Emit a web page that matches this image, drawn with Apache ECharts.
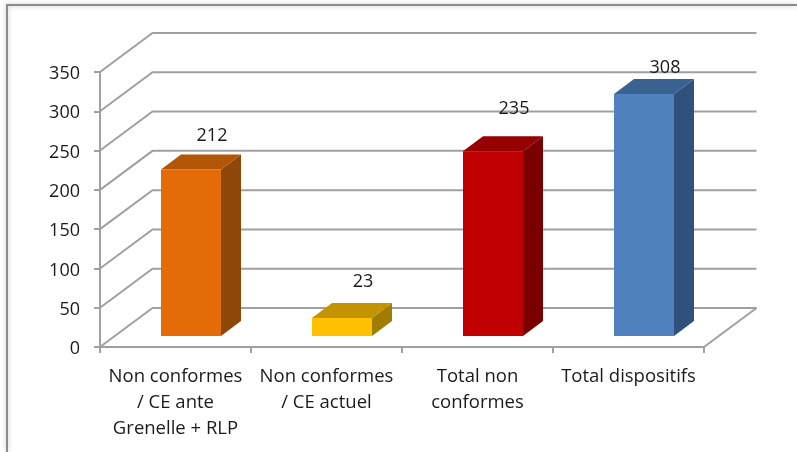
<!DOCTYPE html>
<html>
<head>
<meta charset="utf-8">
<style>html,body{margin:0;padding:0;background:#fff}#chart{width:797px;height:452px}</style>
<script src="https://cdn.jsdelivr.net/npm/echarts@6/dist/echarts.min.js"></script>
</head>
<body>
<div id="chart"></div>
<script>
// Chart content
const categories = ['Non conformes\n/ CE ante\nGrenelle + RLP', 'Non conformes\n/ CE actuel', 'Total non\nconformes', 'Total dispositifs'];
const values = [212, 23, 235, 308];
const wallTicks = [0, 50, 100, 150, 200, 250, 300, 350];

// Shades per bar: front, top, side
const faceColors = [
  ['#E36C09', '#B25506', '#8F4807'],
  ['#FFC000', '#C49300', '#A07D00'],
  ['#C00000', '#960000', '#7A0000'],
  ['#4F81BD', '#3A6291', '#30517C']
];
// Manual lift of each value label above the top of its bar
const labelLift = [19, 21, 27, 11];

// Oblique projection of the chart box
const DEPTH_X = 52.5, DEPTH_Y = -39;   // full box depth
const BAR_DX = 15.5, BAR_DY = -11;     // bar front face inside the box
const BAR_DEPTH_X = 20, BAR_DEPTH_Y = -15;
const BAR_WIDTH = 60;
const GRID_COLOR = '#A0A0A0';

const chart = echarts.init(document.getElementById('chart'), null, { renderer: 'canvas' });

// Back wall, side wall and floor lines
function renderWall(params, api) {
  const v = api.value(0);
  const left = api.coord([0, v]);
  const band = api.size([1, 0])[0];
  const x0 = left[0] - band / 2;
  const x1 = x0 + band * categories.length;
  const y = left[1];
  const style = { stroke: GRID_COLOR, lineWidth: 2, fill: null };
  const children = [
    { type: 'polyline', shape: { points: [[x0, y], [x0 + DEPTH_X, y + DEPTH_Y], [x1 + DEPTH_X, y + DEPTH_Y]] }, style }
  ];
  if (v === 0) {
    children.push({ type: 'line', shape: { x1, y1: y, x2: x1 + DEPTH_X, y2: y + DEPTH_Y }, style });
  }
  return { type: 'group', children };
}

// Box-shaped bar with its value above it
function renderBar(params, api) {
  const i = api.value(0);
  const v = api.value(1);
  const base = api.coord([i, 0]);
  const top = api.coord([i, v]);
  const xl = base[0] - BAR_WIDTH / 2 + BAR_DX;
  const xr = xl + BAR_WIDTH;
  const yb = base[1] + BAR_DY;
  const yt = top[1] + BAR_DY;
  const c = faceColors[i];
  const dx = BAR_DEPTH_X, dy = BAR_DEPTH_Y;
  return {
    type: 'group',
    children: [
      { type: 'polygon', shape: { points: [[xr, yb], [xr + dx, yb + dy], [xr + dx, yt + dy], [xr, yt]] }, style: { fill: c[2] } },
      { type: 'polygon', shape: { points: [[xl, yt], [xr, yt], [xr + dx, yt + dy], [xl + dx, yt + dy]] }, style: { fill: c[1] } },
      { type: 'rect', shape: { x: xl, y: yt, width: BAR_WIDTH, height: yb - yt }, style: { fill: c[0] } },
      {
        type: 'text',
        style: {
          x: (xl + xr) / 2 + dx + 1,
          y: yt + dy - labelLift[i],
          text: String(v),
          align: 'center',
          verticalAlign: 'middle',
          fill: '#1A1A1A',
          font: '18px "Open Sans"'
        }
      }
    ]
  };
}

chart.setOption({
  animation: false,
  backgroundColor: '#fff',
  grid: { left: 100, right: 93, top: 72, height: 275 },
  xAxis: {
    type: 'category',
    data: categories,
    axisLine: { lineStyle: { color: GRID_COLOR, width: 2 } },
    axisTick: { show: true, length: 6, lineStyle: { color: GRID_COLOR, width: 2 } },
    axisLabel: { interval: 0, color: '#1A1A1A', fontFamily: 'Open Sans', fontSize: 18.5, lineHeight: 26, margin: 17 }
  },
  yAxis: {
    type: 'value',
    min: 0,
    max: 350,
    interval: 50,
    splitLine: { show: false },
    axisLine: { show: true, lineStyle: { color: GRID_COLOR, width: 2 } },
    axisTick: { show: true, length: 6, lineStyle: { color: GRID_COLOR, width: 2 } },
    axisLabel: { color: '#1A1A1A', fontFamily: 'Open Sans', fontSize: 18, margin: 20, verticalAlign: 'top', lineHeight: 4 }
  },
  graphic: [
    // Outer chart frame, top and left edges
    {
      type: 'polyline',
      silent: true,
      shape: { points: [[7, 452], [7, 5], [797, 5]] },
      style: { stroke: '#8C8C8C', lineWidth: 2, fill: null, shadowColor: 'rgba(0,0,0,0.25)', shadowBlur: 5 }
    }
  ],
  series: [
    {
      type: 'custom',
      renderItem: renderWall,
      encode: { y: 0 },
      data: wallTicks.map(v => [v]),
      silent: true,
      z: 1
    },
    {
      type: 'custom',
      renderItem: renderBar,
      encode: { x: 0, y: 1 },
      data: values.map((v, i) => [i, v]),
      silent: true,
      z: 2
    }
  ]
});
</script>
</body>
</html>
